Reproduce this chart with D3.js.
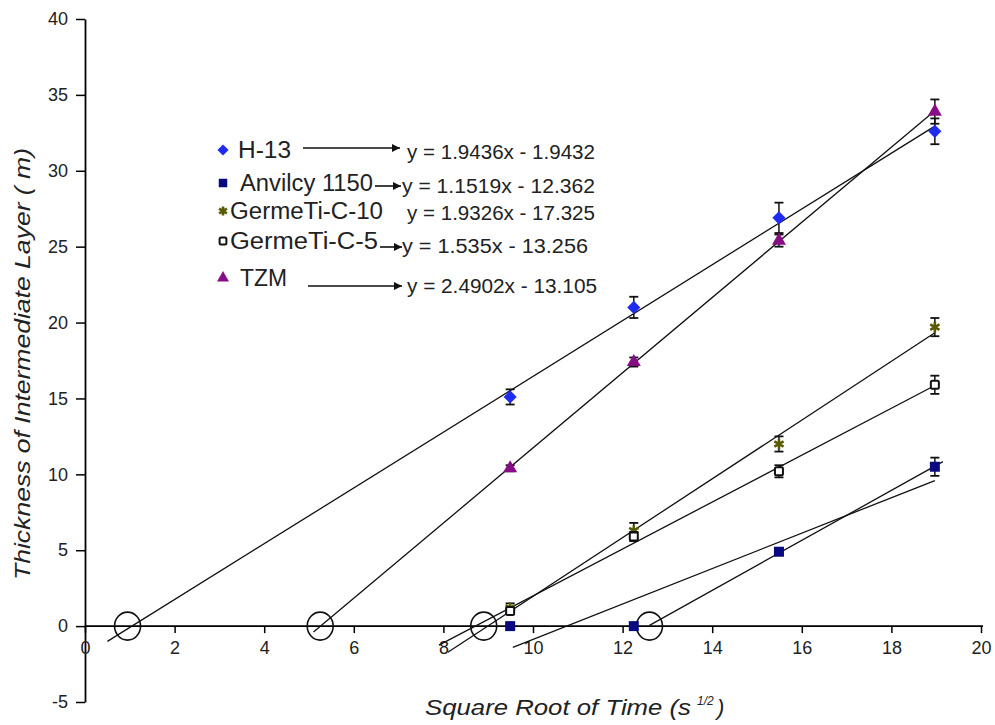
<!DOCTYPE html>
<html>
<head>
<meta charset="utf-8">
<script src="https://cdn.jsdelivr.net/npm/d3@7"></script>
<style>
  body { margin: 0; background: #fff; }
  svg { font-family: "Liberation Sans", Arial, sans-serif; }
</style>
</head>
<body>
<div id="vis"></div>
<script>
// frame
const FRAME_WIDTH = 995;
const FRAME_HEIGHT = 725;

// data
const sqrtTime = [9.49, 12.25, 15.49, 18.97];
const seriesNames = ["H-13", "Anvilcy 1150", "GermeTi-C-10", "GermeTi-C-5", "TZM"];
const h13 = [15.1, 21.0, 26.9, 32.6];
const anvil = [0, 0, 4.9, 10.5];
const c10 = [1.2, 6.3, 12.0, 19.7];
const c5 = [1.0, 5.9, 10.2, 15.9];
const tzm = [10.4, 17.4, 25.4, 33.9];
const h13Err = [0.5, 0.7, 1.0, 0.85];
const anvilErr = [0, 0, 0.2, 0.6];
const c10Err = [0.3, 0.5, 0.5, 0.6];
const c5Err = [0.2, 0.3, 0.4, 0.6];
const tzmErr = [0.2, 0.3, 0.4, 0.8];
const equations = ["y = 1.9436x - 1.9432", "y = 1.1519x - 12.362", "y = 1.9326x - 17.325",
                   "y = 1.535x - 13.256", "y = 2.4902x - 13.105"];
// where each trend line starts / stops (x units)
const trendStart = [0.5, 9.55, 8.1, 7.9, 5.1];
const trendEnd = [18.97, 18.97, 18.97, 18.97, 18.97];
// x-intercept circles
const interceptMarks = [0.95, 5.25, 8.9, 12.6];
// second Anvilcy line through the intercept and the two non-zero points
const anvil2X = [12.6, 15.49, 18.97];
const anvil2Y = [0, 4.9, 10.5];
const anvil2Range = [12.6, 19.15];

const xTicks = d3.range(0, 21, 2);
const yTicks = d3.range(-5, 41, 5);

const seriesValues = [h13, anvil, c10, c5, tzm];
const seriesErr = [h13Err, anvilErr, c10Err, c5Err, tzmErr];
const COLORS = ["#1f2cf0", "#0a0a80", "#5a5a00", "#111", "#860d86"];

const svg = d3.select("#vis").append("svg")
  .attr("width", FRAME_WIDTH).attr("height", FRAME_HEIGHT);

const X = d3.scaleLinear().domain([0, 20]).range([85, 981]);
const Y = d3.scaleLinear().domain([-5, 40]).range([702, 19]);

function fit(xs, ys) {
  const mx = d3.mean(xs), my = d3.mean(ys);
  let sxy = 0, sxx = 0;
  xs.forEach((x, i) => { sxy += (x - mx) * (ys[i] - my); sxx += (x - mx) * (x - mx); });
  const m = sxy / sxx;
  return { m: m, b: my - m * mx };
}

// axes
const yAxis = svg.append("g")
  .attr("transform", "translate(" + X(0) + ",0)")
  .call(d3.axisLeft(Y).tickValues(yTicks).tickFormat(d => String(d))
    .tickSize(9).tickPadding(8).tickSizeOuter(0));
yAxis.select(".domain").attr("stroke-width", 1.8);
yAxis.selectAll(".tick line").attr("stroke-width", 1.5);
yAxis.selectAll("text").attr("font-size", "18px").attr("font-family", "Liberation Sans, Arial").attr("fill", "#222");

const xAxis = svg.append("g")
  .attr("transform", "translate(0," + Y(0) + ")")
  .call(d3.axisBottom(X).tickValues(xTicks).tickSize(7).tickPadding(8).tickSizeOuter(0));
xAxis.select(".domain").attr("stroke-width", 1.8).attr("d", "M" + X(0) + ",0H" + (X(20) + 2));
xAxis.selectAll(".tick line").attr("stroke-width", 1.5);
xAxis.selectAll("text").attr("font-size", "18px").attr("font-family", "Liberation Sans, Arial").attr("fill", "#222");

// trend lines
const plot = svg.append("g");
seriesValues.forEach((vals, i) => {
  const f = fit(sqrtTime, vals);
  plot.append("line")
    .attr("x1", X(trendStart[i])).attr("y1", Y(f.m * trendStart[i] + f.b))
    .attr("x2", X(trendEnd[i])).attr("y2", Y(f.m * trendEnd[i] + f.b))
    .attr("stroke", "#111").attr("stroke-width", 1.3);
});
const f2 = fit(anvil2X, anvil2Y);
plot.append("line")
  .attr("x1", X(anvil2Range[0])).attr("y1", Y(f2.m * anvil2Range[0] + f2.b))
  .attr("x2", X(anvil2Range[1])).attr("y2", Y(f2.m * anvil2Range[1] + f2.b))
  .attr("stroke", "#111").attr("stroke-width", 1.3);

// intercept circles
plot.selectAll(".icirc").data(interceptMarks).enter().append("ellipse")
  .attr("cx", d => X(d)).attr("cy", Y(0))
  .attr("rx", 13).attr("ry", 14)
  .attr("fill", "none").attr("stroke", "#111").attr("stroke-width", 1.6);

// markers
function marker(g, i, x, y, scale) {
  const c = COLORS[i];
  const s = scale || 1;
  if (i === 0) {
    g.append("path").attr("d", d3.symbol(d3.symbolDiamond2, 110 * s * s)())
      .attr("transform", "translate(" + x + "," + y + ")").attr("fill", c);
  } else if (i === 1) {
    g.append("rect").attr("x", x - 5 * s).attr("y", y - 5 * s)
      .attr("width", 10 * s).attr("height", 10 * s).attr("fill", c);
  } else if (i === 2) {
    g.append("path").attr("d", d3.symbol(d3.symbolAsterisk, 80 * s * s)())
      .attr("transform", "translate(" + x + "," + y + ")")
      .attr("fill", "none").attr("stroke", c).attr("stroke-width", 2.6);
  } else if (i === 3) {
    g.append("rect").attr("x", x - 4 * s).attr("y", y - 4 * s)
      .attr("width", 8 * s).attr("height", 8 * s).attr("rx", 1.5)
      .attr("fill", "#fff").attr("stroke", c).attr("stroke-width", 2);
  } else {
    g.append("path").attr("d", d3.symbol(d3.symbolTriangle, 85 * s * s)())
      .attr("transform", "translate(" + x + "," + y + ")").attr("fill", c);
  }
}

seriesValues.forEach((vals, i) => {
  const g = plot.append("g");
  vals.forEach((v, j) => {
    const e = seriesErr[i][j];
    const x = X(sqrtTime[j]);
    if (e > 0) {
      g.append("line").attr("x1", x).attr("x2", x).attr("y1", Y(v - e)).attr("y2", Y(v + e))
        .attr("stroke", "#111").attr("stroke-width", 1.5);
      [v - e, v + e].forEach(t => g.append("line")
        .attr("x1", x - 4.5).attr("x2", x + 4.5).attr("y1", Y(t)).attr("y2", Y(t))
        .attr("stroke", "#111").attr("stroke-width", 1.8));
    }
    marker(g, i, x, Y(v));
  });
});

// legend
const legRowY = [150, 183, 211, 241, 278];
const legTextX = [238, 240, 230, 230, 240];
const legTextW = [53, 133, 153, 148, 47];
const eqX = [407, 402, 407, 402, 407];
const eqY = [152, 186, 213, 246, 286];
const eqW = [188, 193, 188, 186, 190];
const arrows = [[303, 400, 148], [375, 401, 186], null, [380, 402, 247], [308, 402, 286]];

svg.append("defs").append("marker")
  .attr("id", "arr").attr("viewBox", "0 0 10 10").attr("refX", 10).attr("refY", 5)
  .attr("markerWidth", 9).attr("markerHeight", 8).attr("markerUnits", "userSpaceOnUse")
  .attr("orient", "auto")
  .append("path").attr("d", "M0,0L10,5L0,10Z").attr("fill", "#111");

const leg = svg.append("g");
seriesNames.forEach((name, i) => {
  marker(leg, i, 223, legRowY[i], 0.85);
  leg.append("text").attr("x", legTextX[i]).attr("y", legRowY[i]).attr("dy", "0.36em")
    .attr("font-size", "23px").attr("fill", "#222")
    .attr("textLength", legTextW[i]).attr("lengthAdjust", "spacingAndGlyphs")
    .text(name);
  leg.append("text").attr("x", eqX[i]).attr("y", eqY[i]).attr("dy", "0.36em")
    .attr("font-size", "20px").attr("fill", "#222")
    .attr("textLength", eqW[i]).attr("lengthAdjust", "spacingAndGlyphs")
    .text(equations[i]);
  const a = arrows[i];
  if (a) {
    leg.append("line").attr("x1", a[0]).attr("x2", a[1]).attr("y1", a[2]).attr("y2", a[2])
      .attr("stroke", "#111").attr("stroke-width", 1.6).attr("marker-end", "url(#arr)");
  }
});

// axis titles
svg.append("text")
  .attr("transform", "translate(30,364) rotate(-90)")
  .attr("x", -216)
  .attr("font-size", "22px").attr("font-style", "italic").attr("fill", "#222")
  .attr("textLength", 432).attr("lengthAdjust", "spacingAndGlyphs")
  .text("Thickness of Intermediate Layer (  m)");

svg.append("text")
  .attr("x", 425).attr("y", 715)
  .attr("font-size", "22px").attr("font-style", "italic").attr("fill", "#222")
  .attr("textLength", 266).attr("lengthAdjust", "spacingAndGlyphs")
  .text("Square Root of Time (s");
svg.append("text")
  .attr("x", 697).attr("y", 705)
  .attr("font-size", "12px").attr("font-style", "italic").attr("fill", "#222")
  .text("1/2");
svg.append("text")
  .attr("x", 717).attr("y", 715)
  .attr("font-size", "22px").attr("font-style", "italic").attr("fill", "#222")
  .text(")");
</script>
</body>
</html>
